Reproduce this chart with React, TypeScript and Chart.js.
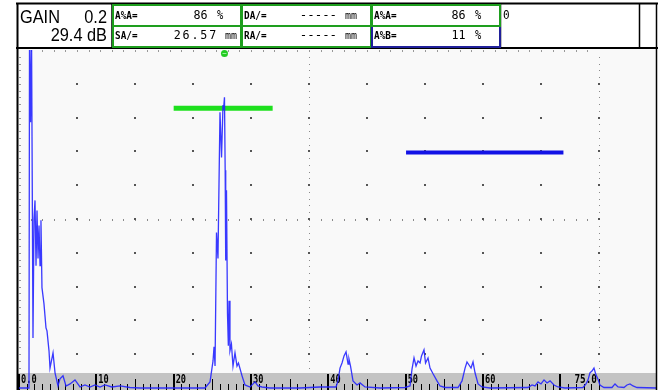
import React, { useEffect, useRef } from "react";
import { Chart, registerables } from "chart.js";
Chart.register(...registerables);

// ---- A-scan trace (sound path in mm, amplitude in % screen height) ----
const traceDepth = [
  0, 1.29, 1.36, 1.49, 1.62, 1.81, 1.94, 2.07, 2.2, 2.33, 2.46, 2.59, 2.72, 2.84, 2.97, 3.23, 3.49, 3.62, 3.88, 4.01,
  4.4, 4.66, 5.04, 5.3, 5.69, 6.08, 6.6, 7.24, 7.89, 8.53, 9.18, 9.83, 10.47, 11.12, 12.0, 13.06, 14.35, 15.65,
  24.05, 24.7, 25.09, 25.22, 25.35, 25.54, 25.73, 25.99, 26.19, 26.38, 26.44, 26.57, 26.66, 26.73, 26.83, 26.96,
  27.07, 27.16, 27.28, 27.47, 27.67, 27.93, 28.19, 28.38, 28.84, 29.22, 29.87, 30.52, 30.9, 31.42, 32.46,
  36.3, 38.9, 40.99, 41.25, 41.51, 41.77, 42.03, 42.29, 42.55, 42.67, 42.87, 43.19, 43.71, 44.1, 44.74, 46.7,
  49.9, 50.56, 50.82, 51.08, 51.34, 51.6, 51.86, 52.05, 52.37, 52.57, 52.89, 53.15, 53.54, 54.05, 54.44, 55.09,
  56.77, 57.29, 57.68, 57.93, 58.19, 58.45, 58.71, 58.97, 59.36, 59.87, 60.91,
  65.82, 66.34, 66.73, 67.12, 67.5, 67.89, 68.28, 68.67, 69.18, 69.7, 70.6,
  72.93, 73.32, 73.58, 73.83, 74.09, 74.35, 74.61, 74.86, 75.12, 75.64, 76.68, 77.07, 77.46, 78.23, 78.62, 79.01,
  79.4, 79.91, 82.5,
];
const traceAmp = [
  0, 0, 105, 78.6, 105, 14.8, 50.1, 55.5, 36.2, 52.5, 38.3, 48.1, 36.2, 49.6, 29.7, 24.9, 17.8, 16.9, 11, 5.9,
  10.4, 4.5, 0.6, 2.7, 3.6, 0.6, 1.2, 2.4, 0.3, 0.9, 0.3, 0.9, 0.3, 0.9, 0.3, 0.6, 0.15, 0,
  0, 1.8, 8, 12.2, 6.5, 46, 38.3, 81.6, 68.2, 83.7, 82.2, 86, 64.4, 37.7, 58.5, 22,
  12.5, 25.8, 11, 13, 6.5, 10.4, 6.5, 7.4, 3.6, 0.9, 0.3, 1.8, 0.6, 0.3, 0,
  0, 0.3, 0.3, 2.1, 5.9, 7.4, 9.5, 10.7, 7.1, 8.6, 6.5, 2.1, 0.9, 1.5, 0.3, 0,
  0.15, 0.6, 5.6, 8.9, 6.5, 8, 7.4, 9.5, 11.3, 7.4, 8.9, 5.9, 4.2, 2.1, 0.6, 0.15,
  0.15, 2.1, 5.9, 7.7, 6.8, 5.9, 7.7, 4.5, 1.2, 0.3, 0,
  0.15, 0.9, 0.6, 1.8, 1.2, 2.4, 1.5, 2.1, 0.9, 0.3, 0,
  0.15, 1.2, 2.4, 4.5, 5, 5.9, 3.9, 2.7, 0.9, 0.15, 0.15, 1.2, 0.3, 0.15, 0.9, 1.2,
  0.6, 0.15, 0,
];

// ---- gates ----
const gateADepth = [20.0, 32.8];
const gateALevel = 82.8;
const gateBDepth = [50.05, 70.4];
const gateBLevel = 69.7;
const peakDepth = 26.57;

// ---- axis ----
const xMax = 82.5;
const rangeEnd = 75;
const rulerTickValues = [0, 10, 20, 30, 40, 50, 60];
const rulerTickLabels = ["0.0", "10", "20", "30", "40", "50", "60"];
const rangeEndLabel = "75.0";

// ---- header texts ----
const gainTexts = ["GAIN", "0.2", "29.4 dB"];
const readLabels = ["A%A=", "SA/=", "DA/=", "RA/=", "A%A=", "A%B="];
const readValues = ["86", "26.57", "-----", "-----", "86", "11"];
const readUnits = ["%", "mm", "mm", "mm", "%", "%"];
const extraText = "0";

function txt(
  ctx: CanvasRenderingContext2D,
  s: string,
  x: number,
  y: number,
  font: string,
  align: CanvasTextAlign,
  sx = 1,
  spacing = "0px",
  color = "#000"
) {
  ctx.save();
  ctx.font = font;
  ctx.fillStyle = color;
  ctx.textAlign = align;
  ctx.textBaseline = "alphabetic";
  (ctx as any).letterSpacing = spacing;
  ctx.translate(x, y);
  ctx.scale(sx, 1);
  ctx.fillText(s, 0, 0);
  ctx.restore();
}

const screenPlugin = {
  id: "screen",
  beforeDraw(chart: any) {
    const { ctx } = chart;
    ctx.save();
    ctx.fillStyle = "#ffffff";
    ctx.fillRect(0, 0, chart.width, chart.height);
    ctx.fillStyle = "#f9f9f9";
    ctx.fillRect(17, 48, 640, 342);
    ctx.restore();
  },
  beforeDatasetsDraw(chart: any) {
    const { ctx, chartArea: a } = chart;
    const xs = chart.scales.x;
    const ys = chart.scales.y;
    const X = (v: number) => xs.getPixelForValue(v);
    const Y = (v: number) => ys.getPixelForValue(v);
    const div = rangeEnd / 10;
    ctx.save();
    // top edge ticks
    ctx.fillStyle = "#999";
    for (let i = 1; i < 50; i++) {
      const px = Math.round(X((i * div) / 5));
      ctx.fillRect(px, a.top, 1, 2);
    }
    // left edge ticks
    for (let i = 1; i < 50; i++) {
      const py = Math.round(Y(i * 2));
      ctx.fillRect(a.left, py, 2, 1);
    }
    // dotted center/right verticals
    ctx.fillStyle = "#8a8a8a";
    for (const v of [rangeEnd / 2, rangeEnd]) {
      const px = Math.round(X(v));
      for (let i = 1; i < 50; i++) ctx.fillRect(px, Math.round(Y(i * 2)), 1, 1);
    }
    // dotted center horizontal
    {
      const py = Math.round(Y(50));
      for (let i = 1; i < 50; i++) ctx.fillRect(Math.round(X((i * div) / 5)), py, 1, 2);
    }
    // major dots
    ctx.fillStyle = "#555";
    for (let i = 1; i <= 10; i++) {
      for (let j = 1; j <= 9; j++) {
        const px = Math.round(X(i * div));
        const py = Math.round(Y(j * 10));
        ctx.fillRect(px - 1, py - 1, 2, 2);
      }
    }
    // bottom ruler
    ctx.fillStyle = "#c3c3c3";
    ctx.fillRect(17, 373, 640, 17);
    ctx.fillStyle = "#000";
    for (let mm = 0; mm <= rangeEnd; mm++) {
      const px = Math.round(X(mm));
      if (mm % 10 === 0) ctx.fillRect(px - 1, 374, 2, 16);
      else if (mm % 5 === 0) ctx.fillRect(px, 379, 1, 11);
      else ctx.fillRect(px, 384, 1, 6);
    }
    rulerTickValues.forEach((v, i) => {
      txt(ctx, rulerTickLabels[i], X(v) + 2, 383, "bold 12px 'DejaVu Sans Mono'", "left", 0.72);
    });
    txt(ctx, rangeEndLabel, X(rangeEnd) - 2, 383, "bold 12px 'DejaVu Sans Mono'", "right", 0.78);
    ctx.restore();
  },
  afterDatasetsDraw(chart: any) {
    const { ctx } = chart;
    const xs = chart.scales.x;
    ctx.save();
    // green peak marker
    ctx.fillStyle = "#22cc22";
    ctx.beginPath();
    ctx.arc(xs.getPixelForValue(peakDepth), 53.5, 3.5, 0, Math.PI * 2);
    ctx.fill();
    ctx.fillStyle = "#99ee99";
    ctx.fillRect(xs.getPixelForValue(peakDepth) - 2, 53, 4, 1);

    // header background
    ctx.fillStyle = "#fff";
    ctx.fillRect(17, 3, 640, 45);
    // outer lines
    ctx.strokeStyle = "#000";
    ctx.lineWidth = 2;
    ctx.beginPath();
    ctx.moveTo(16, 3.5);
    ctx.lineTo(658, 3.5);
    ctx.moveTo(17.5, 3);
    ctx.lineTo(17.5, 390);
    ctx.moveTo(16, 48);
    ctx.lineTo(658, 48);
    ctx.stroke();
    ctx.lineWidth = 1.5;
    ctx.beginPath();
    ctx.moveTo(656.5, 3);
    ctx.lineTo(656.5, 390);
    ctx.moveTo(500.5, 3);
    ctx.lineTo(500.5, 48);
    ctx.moveTo(639.5, 3);
    ctx.lineTo(639.5, 48);
    ctx.moveTo(112, 3);
    ctx.lineTo(112, 48);
    ctx.stroke();

    // reading boxes
    const boxes = [113, 242, 372];
    const widths = [128, 129, 128];
    const G = "#1e9e1e";
    const B = "#20209a";
    ctx.lineWidth = 2;
    boxes.forEach((bx, k) => {
      ctx.strokeStyle = G;
      ctx.strokeRect(bx, 5, widths[k], 21);
      ctx.strokeStyle = k === 2 ? B : G;
      ctx.strokeRect(bx, 26, widths[k], 21);
    });
    ctx.strokeStyle = G;
    ctx.strokeRect(372, 5, 128, 21);

    // GAIN
    const big = "19px 'Liberation Sans'";
    txt(ctx, gainTexts[0], 20, 22.5, big, "left", 0.86);
    txt(ctx, gainTexts[1], 107, 22.5, big, "right", 0.86);
    txt(ctx, gainTexts[2], 107, 40.7, big, "right", 0.86);

    const lab = "bold 11px 'DejaVu Sans Mono'";
    const val = "13px 'DejaVu Sans Mono'";
    const unit = "10px 'DejaVu Sans Mono'";
    const rows = [19, 39.2];
    // box 1
    txt(ctx, readLabels[0], 115, rows[0], lab, "left", 0.85);
    txt(ctx, readValues[0], 207.5, rows[0] + 0.3, val, "right", 0.9);
    txt(ctx, readUnits[0], 217, rows[0] + 0.3, val, "left", 0.8);
    txt(ctx, readLabels[1], 115, rows[1], lab, "left", 0.85);
    txt(ctx, readValues[1], 218, rows[1], val, "right", 0.9, "2px");
    txt(ctx, readUnits[1], 225, rows[1], unit, "left", 1);
    // box 2
    txt(ctx, readLabels[2], 244, rows[0], lab, "left", 0.85);
    txt(ctx, readValues[2], 337, rows[0], val, "right", 0.95);
    txt(ctx, readUnits[2], 345, rows[0], unit, "left", 1);
    txt(ctx, readLabels[3], 244, rows[1], lab, "left", 0.85);
    txt(ctx, readValues[3], 337, rows[1], val, "right", 0.95);
    txt(ctx, readUnits[3], 345, rows[1], unit, "left", 1);
    // box 3
    txt(ctx, readLabels[4], 374, rows[0], lab, "left", 0.85);
    txt(ctx, readValues[4], 465.5, rows[0] + 0.3, val, "right", 0.9);
    txt(ctx, readUnits[4], 475, rows[0] + 0.3, val, "left", 0.8);
    txt(ctx, readLabels[5], 374, rows[1], lab, "left", 0.85);
    txt(ctx, readValues[5], 465.5, rows[1], val, "right", 0.9);
    txt(ctx, readUnits[5], 475, rows[1], val, "left", 0.8);
    // extra box
    txt(ctx, extraText, 503, rows[0] + 0.3, val, "left", 0.85);
    ctx.restore();
  },
};

export default function App() {
  const ref = useRef<HTMLCanvasElement | null>(null);
  useEffect(() => {
    if (!ref.current) return;
    const trace = traceDepth.map((d, i) => ({ x: d, y: traceAmp[i] }));
    const chart = new Chart(ref.current, {
      type: "line",
      data: {
        datasets: [
          {
            data: trace,
            borderColor: "rgba(35,35,255,0.9)",
            borderWidth: 1.3,
            pointRadius: 0,
            tension: 0,
            order: 0,
            clip: { left: 0, top: 0, right: 0, bottom: 3 } as any,
          },
          {
            data: [
              { x: gateADepth[0], y: gateALevel },
              { x: gateADepth[1], y: gateALevel },
            ],
            borderColor: "#1ee01e",
            borderWidth: 5,
            borderCapStyle: "butt",
            pointRadius: 0,
            order: 1,
          },
          {
            data: [
              { x: gateBDepth[0], y: gateBLevel },
              { x: gateBDepth[1], y: gateBLevel },
            ],
            borderColor: "#1212e6",
            borderWidth: 4,
            borderCapStyle: "butt",
            pointRadius: 0,
            order: 1,
          },
        ],
      },
      options: {
        animation: false,
        responsive: false,
        maintainAspectRatio: false,
        layout: { padding: { left: 19, top: 50, right: 3, bottom: 2 } },
        scales: {
          x: { type: "linear", min: 0, max: xMax, display: false },
          y: { type: "linear", min: 0, max: 100, display: false },
        },
        plugins: { legend: { display: false }, tooltip: { enabled: false } },
        events: [],
      },
      plugins: [screenPlugin],
    } as any);
    return () => chart.destroy();
  }, []);
  return (
    <div style={{ position: "absolute", left: 0, top: 0, width: 660, height: 390, background: "#fff" }}>
      <canvas ref={ref} width={660} height={390} style={{ width: 660, height: 390, display: "block" }} />
    </div>
  );
}
